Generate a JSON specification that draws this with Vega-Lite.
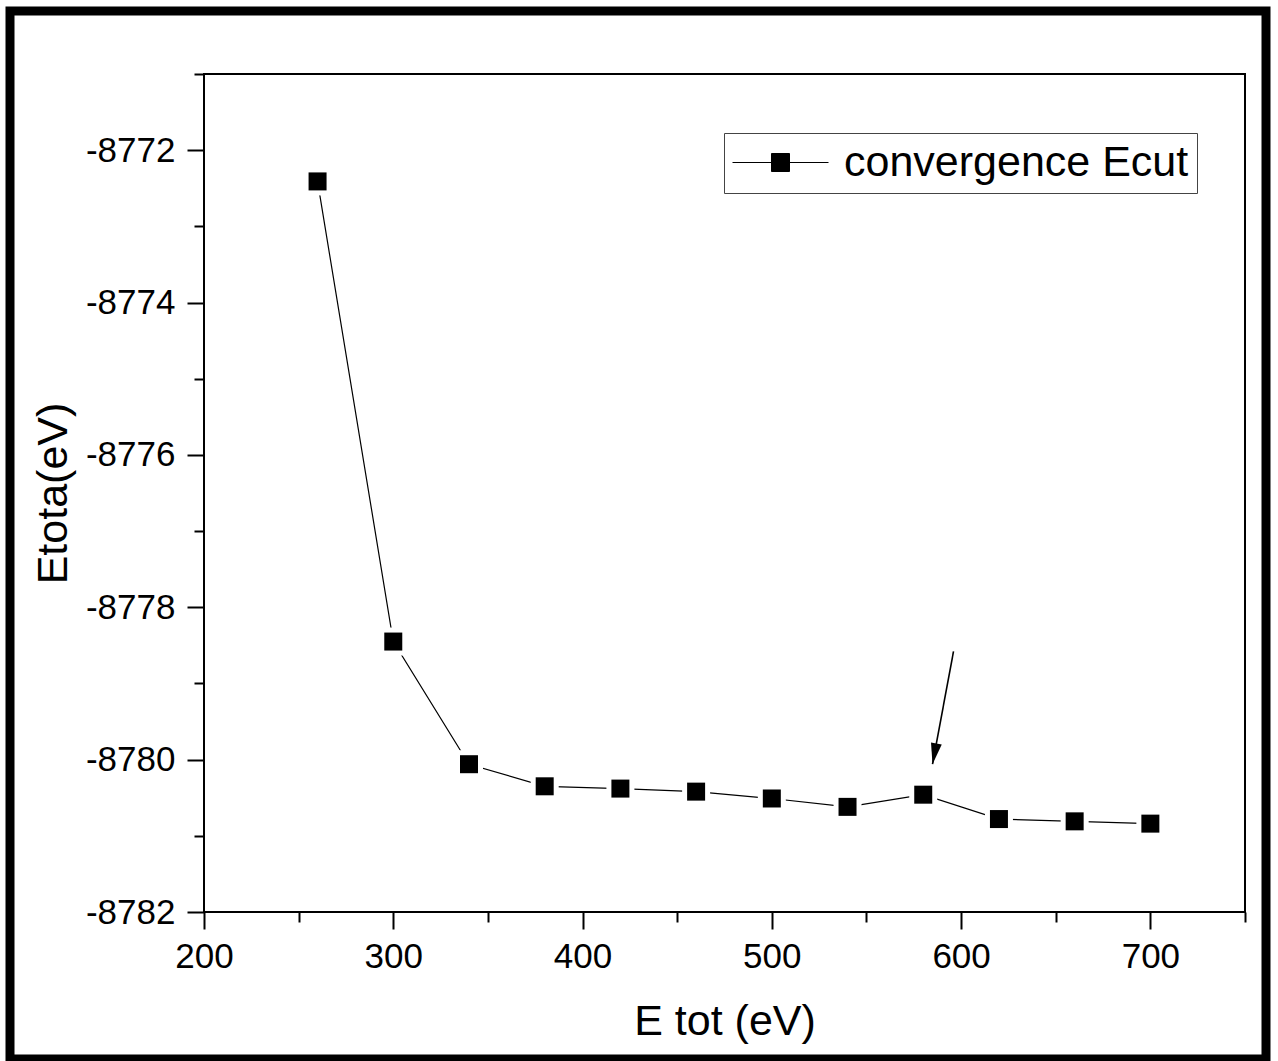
{
  "$schema": "https://vega.github.io/schema/vega-lite/v6.json",
  "width": 1256,
  "height": 1048,
  "padding": {"left": 10, "top": 11, "right": 12, "bottom": 2},
  "autosize": {"type": "none"},
  "background": "white",
  "config": {
    "view": {"stroke": "black", "strokeWidth": 9},
    "font": "Liberation Sans",
    "axis": {"grid": false, "domain": false, "tickColor": "black", "tickWidth": 2, "labelColor": "black", "titleColor": "black", "labelFont": "Liberation Sans", "titleFont": "Liberation Sans"}
  },
  "data": {
    "values": [
      {"E": 260, "Etot": -8772.41},
      {"E": 300, "Etot": -8778.45},
      {"E": 340, "Etot": -8780.06},
      {"E": 380, "Etot": -8780.35},
      {"E": 420, "Etot": -8780.38},
      {"E": 460, "Etot": -8780.42},
      {"E": 500, "Etot": -8780.51},
      {"E": 540, "Etot": -8780.62},
      {"E": 580, "Etot": -8780.46},
      {"E": 620, "Etot": -8780.78},
      {"E": 660, "Etot": -8780.81},
      {"E": 700, "Etot": -8780.84}
    ]
  },
  "resolve": {"axis": {"x": "independent", "y": "independent"}},
  "layer": [
    {
      "data": {"values": [{}]},
      "mark": {"type": "rect", "filled": false, "color": "black", "strokeWidth": 2, "clip": false},
      "encoding": {
        "x": {"datum": 200, "type": "quantitative", "axis": null},
        "x2": {"datum": 750},
        "y": {"datum": -8782, "type": "quantitative", "axis": null},
        "y2": {"datum": -8771}
      }
    },
    {
      "mark": {"type": "line", "color": "black", "strokeWidth": 1.2},
      "encoding": {
        "x": {
          "field": "E", "type": "quantitative",
          "scale": {"domain": [200, 750], "range": [194, 1235], "nice": false, "zero": false},
          "axis": {
            "orient": "bottom", "offset": -147,
            "values": [200, 300, 400, 500, 600, 700],
            "tickSize": 17, "labelFontSize": 35, "labelPadding": 10,
            "labelFlush": false, "labelOverlap": false,
            "labelExpr": "'' + datum.value",
            "title": "E tot (eV)", "titleFontSize": 43, "titleFontWeight": "normal", "titlePadding": 26
          }
        },
        "y": {
          "field": "Etot", "type": "quantitative",
          "scale": {"domain": [-8782, -8771], "range": [901, 63], "nice": false, "zero": false},
          "axis": {
            "orient": "left", "offset": -194,
            "values": [-8782, -8780, -8778, -8776, -8774, -8772],
            "tickSize": 17, "labelFontSize": 35, "labelPadding": 12,
            "labelFlush": false, "labelOverlap": false,
            "labelExpr": "'' + datum.value",
            "title": "Etota(eV)", "titleFontSize": 43, "titleFontWeight": "normal", "titlePadding": 10
          }
        }
      }
    },
    {
      "mark": {"type": "point", "shape": "square", "filled": true, "color": "white", "size": 784, "opacity": 1},
      "encoding": {
        "x": {
          "field": "E", "type": "quantitative",
          "axis": {"orient": "bottom", "offset": -147, "values": [250, 350, 450, 550, 650, 750], "tickSize": 10, "labels": false, "title": null}
        },
        "y": {
          "field": "Etot", "type": "quantitative",
          "axis": {"orient": "left", "offset": -194, "values": [-8781, -8779, -8777, -8775, -8773, -8771], "tickSize": 10, "labels": false, "title": null}
        }
      }
    },
    {
      "mark": {"type": "point", "shape": "square", "filled": true, "size": 324, "opacity": 1},
      "encoding": {
        "x": {"field": "E", "type": "quantitative", "axis": null},
        "y": {"field": "Etot", "type": "quantitative", "axis": null},
        "color": {
          "datum": "convergence Ecut", "type": "nominal",
          "scale": {"range": ["black"]},
          "legend": {
            "orient": "none", "legendX": 714, "legendY": 122,
            "title": null, "padding": 8,
            "strokeColor": "#444", "fillColor": "white",
            "labelFontSize": 43, "labelColor": "black", "labelFont": "Liberation Sans",
            "labelOffset": 69, "labelLimit": 1000,
            "symbolType": "M-1.3125,0H1.125M2.25,0H4.6875M1.125,-0.5625H2.25V0.5625H1.125Z",
            "symbolSize": 1024,
            "symbolFillColor": "black", "symbolStrokeColor": "black", "symbolStrokeWidth": 1,
            "encode": {"symbols": {"update": {"fill": {"value": "black"}, "stroke": {"value": "black"}, "strokeWidth": {"value": 1}, "opacity": {"value": 1}}}}
          }
        }
      }
    },
    {
      "data": {"values": [{"x": 596.0, "y": -8778.58, "x2": 584.9, "y2": -8780.06}]},
      "layer": [
        {
          "mark": {"type": "rule", "color": "black", "strokeWidth": 1.6},
          "encoding": {
            "x": {"field": "x", "type": "quantitative", "axis": null},
            "y": {"field": "y", "type": "quantitative", "axis": null},
            "x2": {"field": "x2"},
            "y2": {"field": "y2"}
          }
        },
        {
          "mark": {"type": "point", "shape": "M0,0L-0.26,-1L0.26,-1Z", "size": 1764, "angle": 10.6, "filled": true, "color": "black", "opacity": 1},
          "encoding": {
            "x": {"field": "x2", "type": "quantitative", "axis": null},
            "y": {"field": "y2", "type": "quantitative", "axis": null}
          }
        }
      ]
    }
  ]
}
